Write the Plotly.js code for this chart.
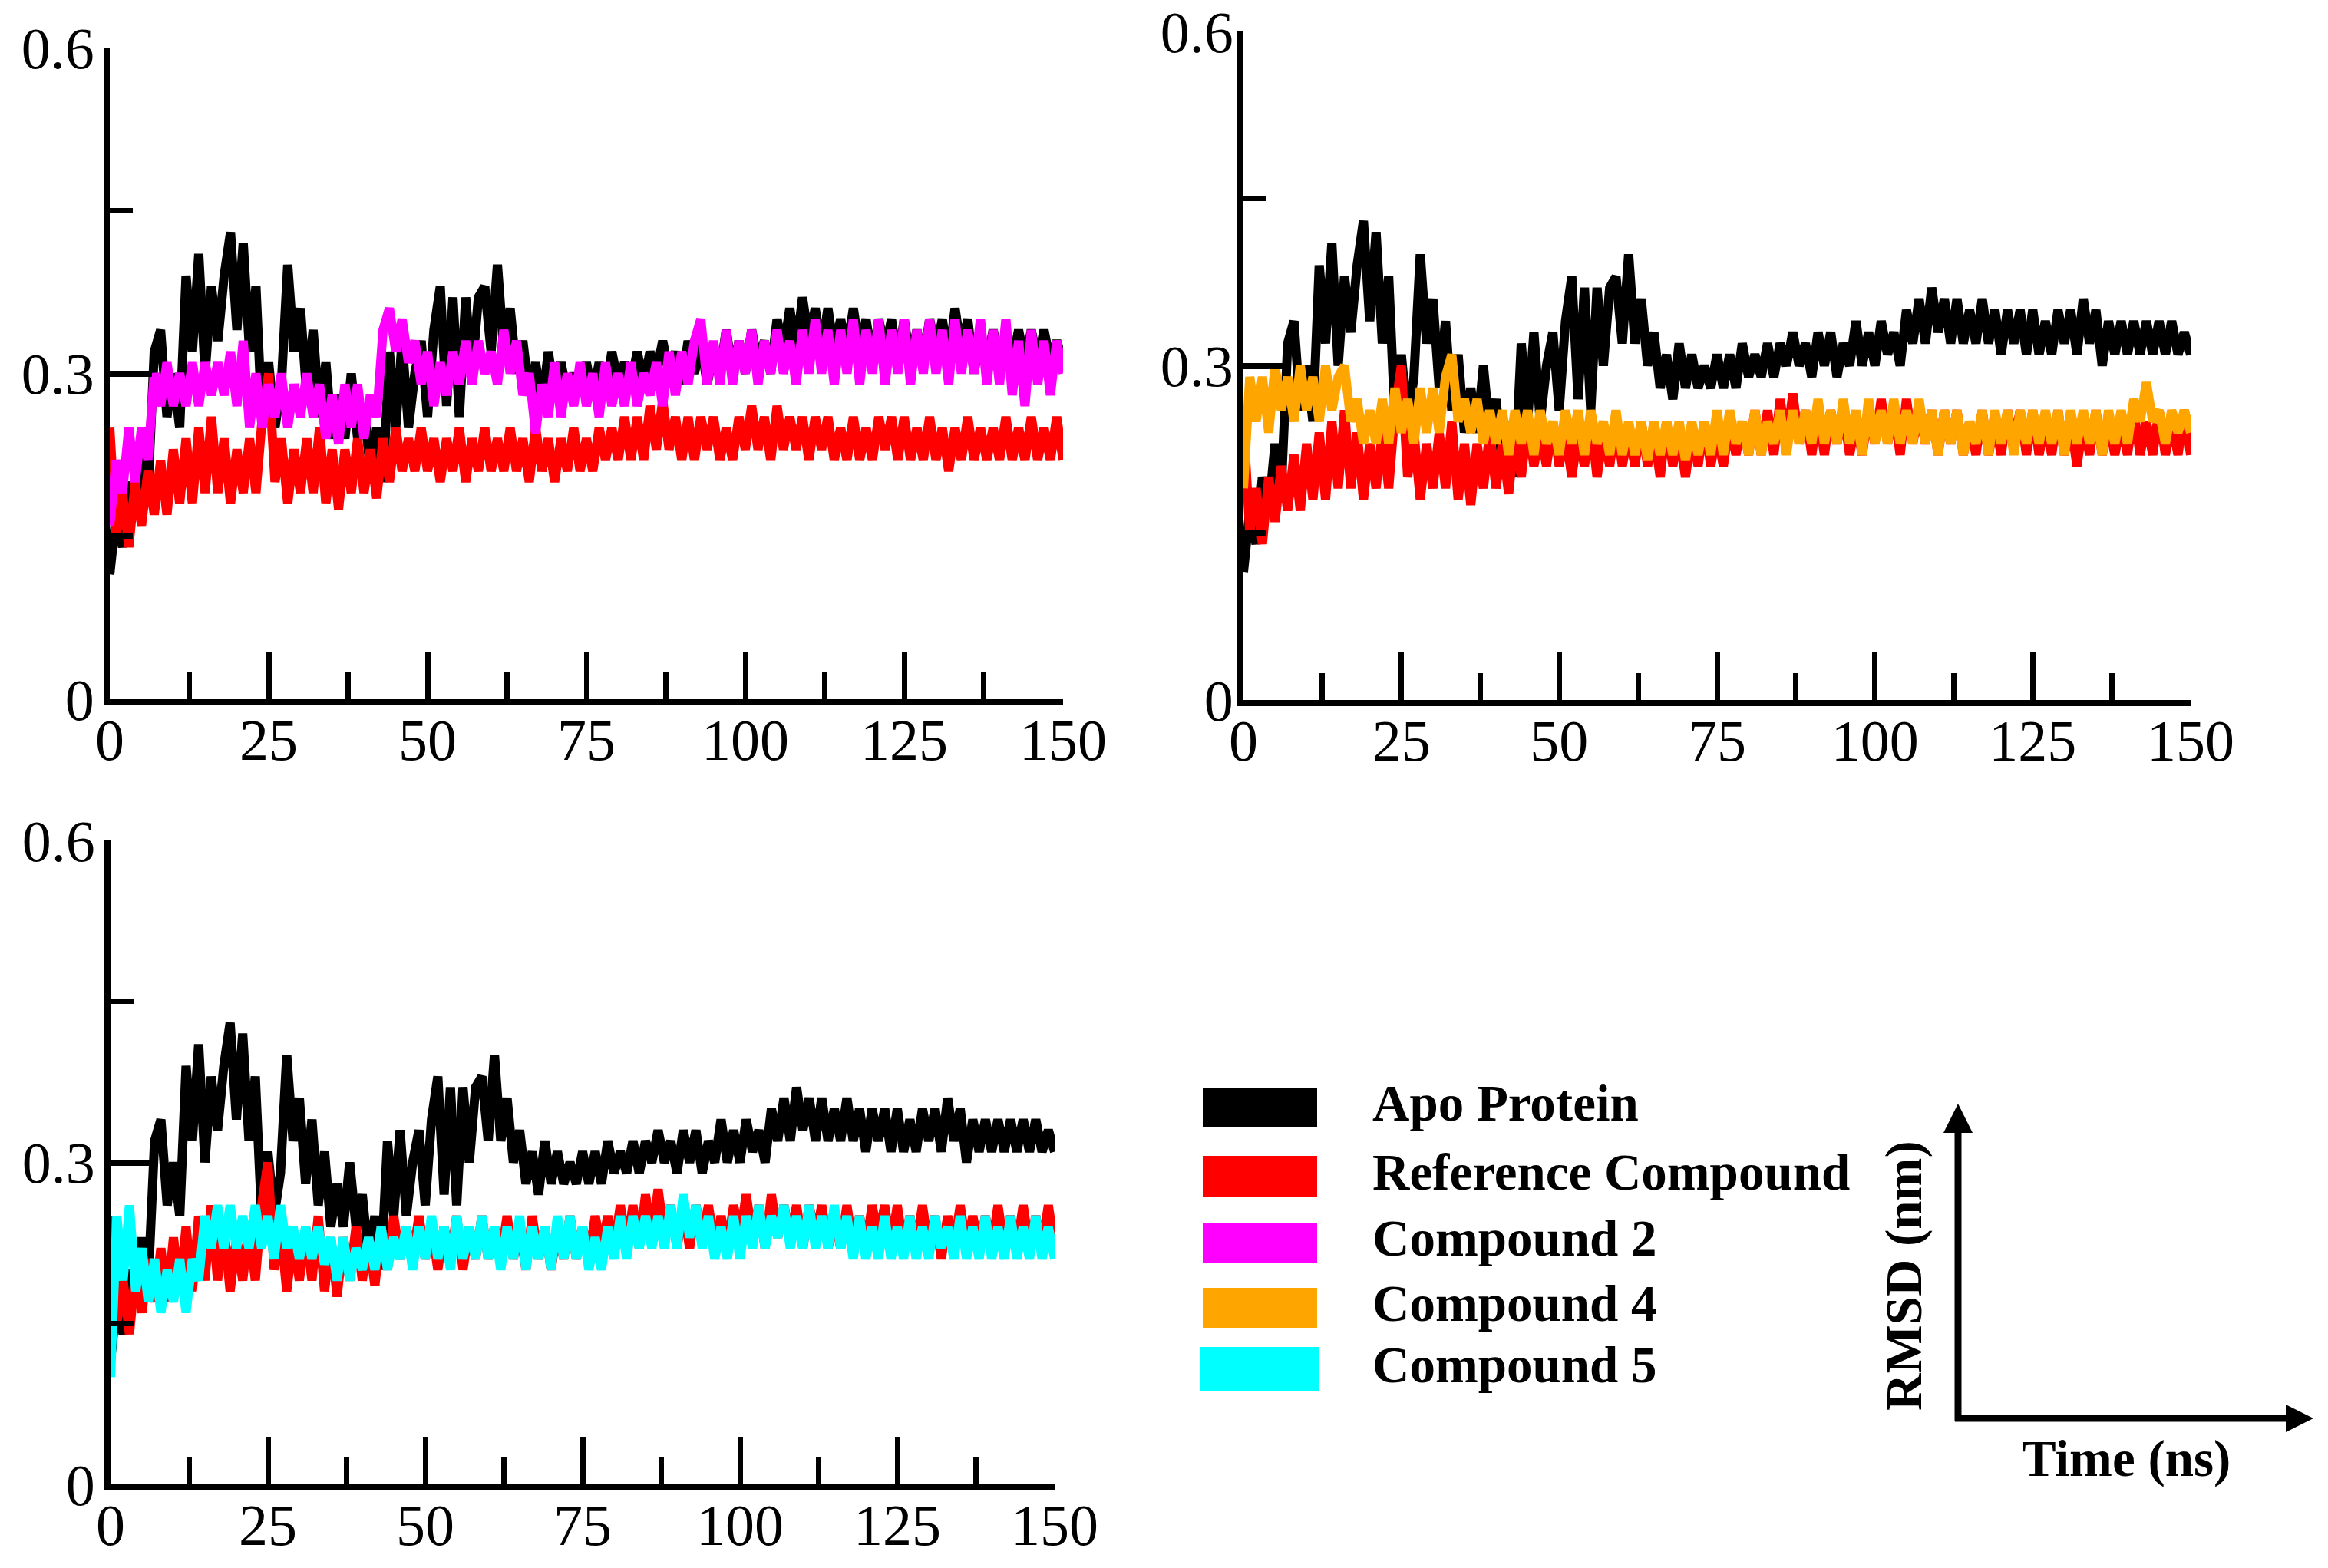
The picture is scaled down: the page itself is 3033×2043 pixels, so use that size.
<!DOCTYPE html>
<html>
<head>
<meta charset="utf-8">
<script src="https://cdn.plot.ly/plotly-3.0.1.min.js"></script>
<style>html,body{margin:0;padding:0;background:#fff;}#chart{width:3033px;height:2043px;}</style>
</head>
<body>
<div id="chart"></div>
<script>
// ---- Data (RMSD in nm, sampled every 1 ns, 0..150 ns) ----
var seriesNames = ["Apo Protein", "Reference Compound", "Compound 2", "Compound 4", "Compound 5"];
var seriesColors = ["#000000", "#ff0000", "#ff00ff", "#ffa500", "#00ffff"];
var xTickLabels = ["0", "25", "50", "75", "100", "125", "150"];
var yTickLabels = ["0", "0.3", "0.6"];

var apo = [
0.115,0.17,0.14,0.20,0.17,0.23,0.19,0.32,0.34,0.26,
0.30,0.25,0.39,0.32,0.41,0.30,0.38,0.33,0.39,0.43,
0.34,0.42,0.32,0.38,0.25,0.31,0.25,0.29,0.40,0.32,
0.36,0.28,0.34,0.26,0.31,0.24,0.28,0.24,0.30,0.24,
0.27,0.21,0.25,0.20,0.32,0.25,0.33,0.25,0.30,0.33,
0.26,0.34,0.38,0.27,0.37,0.26,0.37,0.30,0.37,0.38,
0.32,0.40,0.32,0.36,0.30,0.33,0.28,0.31,0.27,0.32,
0.28,0.31,0.28,0.30,0.28,0.31,0.28,0.31,0.28,0.32,
0.29,0.31,0.29,0.32,0.29,0.32,0.30,0.33,0.30,0.32,
0.29,0.33,0.30,0.33,0.29,0.32,0.30,0.34,0.30,0.33,
0.30,0.34,0.31,0.33,0.30,0.35,0.32,0.36,0.32,0.37,
0.33,0.36,0.32,0.36,0.32,0.35,0.32,0.36,0.32,0.35,
0.31,0.35,0.32,0.35,0.31,0.35,0.31,0.34,0.31,0.35,
0.32,0.35,0.31,0.36,0.32,0.35,0.30,0.34,0.31,0.34,
0.31,0.34,0.31,0.34,0.31,0.34,0.31,0.34,0.31,0.33,
0.31];

var refCmp = [
0.25,0.15,0.19,0.14,0.20,0.16,0.21,0.17,0.22,0.17,
0.23,0.18,0.24,0.18,0.25,0.19,0.26,0.19,0.24,0.18,
0.23,0.19,0.24,0.19,0.26,0.30,0.20,0.24,0.18,0.23,
0.19,0.24,0.19,0.25,0.18,0.23,0.175,0.23,0.19,0.24,
0.19,0.23,0.185,0.24,0.20,0.25,0.21,0.24,0.21,0.25,
0.21,0.24,0.20,0.24,0.21,0.25,0.20,0.24,0.21,0.25,
0.21,0.24,0.21,0.25,0.21,0.24,0.20,0.25,0.21,0.24,
0.20,0.24,0.21,0.25,0.21,0.24,0.21,0.25,0.22,0.25,
0.22,0.26,0.22,0.26,0.22,0.27,0.23,0.275,0.23,0.26,
0.22,0.26,0.22,0.26,0.23,0.26,0.22,0.25,0.22,0.26,
0.23,0.27,0.23,0.26,0.22,0.27,0.23,0.26,0.23,0.26,
0.22,0.26,0.23,0.26,0.22,0.25,0.22,0.26,0.22,0.25,
0.22,0.26,0.23,0.26,0.22,0.26,0.22,0.25,0.22,0.26,
0.22,0.25,0.21,0.25,0.22,0.26,0.22,0.25,0.22,0.25,
0.22,0.26,0.22,0.25,0.22,0.26,0.22,0.25,0.22,0.26,
0.22];

var cmp2 = [
0.16,0.22,0.19,0.25,0.20,0.25,0.22,0.30,0.27,0.31,
0.27,0.30,0.27,0.31,0.27,0.31,0.28,0.31,0.28,0.32,
0.27,0.33,0.25,0.30,0.25,0.29,0.26,0.30,0.25,0.29,
0.26,0.30,0.26,0.29,0.24,0.28,0.235,0.29,0.25,0.29,
0.24,0.28,0.26,0.34,0.36,0.32,0.35,0.31,0.33,0.29,
0.32,0.27,0.31,0.28,0.32,0.29,0.33,0.29,0.33,0.30,
0.32,0.29,0.34,0.30,0.33,0.28,0.30,0.245,0.29,0.26,
0.31,0.26,0.30,0.27,0.31,0.27,0.30,0.26,0.31,0.27,
0.30,0.27,0.31,0.27,0.30,0.28,0.31,0.27,0.32,0.28,
0.32,0.29,0.33,0.35,0.29,0.33,0.29,0.34,0.29,0.33,
0.30,0.34,0.29,0.33,0.30,0.34,0.30,0.33,0.29,0.34,
0.30,0.35,0.30,0.34,0.29,0.34,0.30,0.35,0.29,0.34,
0.30,0.35,0.29,0.34,0.30,0.35,0.29,0.34,0.30,0.35,
0.30,0.34,0.29,0.35,0.30,0.34,0.30,0.35,0.29,0.34,
0.29,0.35,0.28,0.33,0.27,0.34,0.29,0.33,0.28,0.33,
0.30];

var cmp4 = [
0.19,0.29,0.25,0.29,0.24,0.30,0.26,0.29,0.25,0.30,
0.26,0.29,0.25,0.30,0.26,0.29,0.30,0.25,0.27,0.23,
0.26,0.23,0.27,0.23,0.28,0.24,0.27,0.23,0.28,0.24,
0.28,0.24,0.29,0.31,0.25,0.27,0.24,0.27,0.23,0.26,
0.23,0.26,0.22,0.26,0.23,0.26,0.22,0.26,0.23,0.25,
0.22,0.26,0.23,0.26,0.22,0.26,0.23,0.25,0.22,0.26,
0.22,0.25,0.22,0.25,0.215,0.25,0.22,0.25,0.22,0.25,
0.215,0.25,0.22,0.25,0.22,0.26,0.22,0.26,0.23,0.25,
0.22,0.26,0.22,0.25,0.23,0.26,0.22,0.26,0.23,0.26,
0.23,0.27,0.23,0.26,0.23,0.27,0.23,0.26,0.22,0.27,
0.23,0.26,0.23,0.27,0.23,0.26,0.23,0.27,0.23,0.26,
0.22,0.26,0.23,0.26,0.22,0.25,0.23,0.26,0.22,0.26,
0.23,0.26,0.22,0.26,0.23,0.26,0.23,0.26,0.23,0.26,
0.22,0.26,0.23,0.26,0.23,0.26,0.22,0.26,0.23,0.26,
0.23,0.27,0.25,0.285,0.25,0.26,0.23,0.26,0.24,0.26,
0.24];

var cmp5 = [
0.10,0.25,0.19,0.26,0.18,0.22,0.17,0.21,0.16,0.20,
0.17,0.21,0.16,0.21,0.19,0.25,0.22,0.26,0.22,0.26,
0.22,0.25,0.22,0.26,0.22,0.25,0.21,0.26,0.22,0.24,
0.21,0.24,0.21,0.24,0.205,0.23,0.19,0.23,0.19,0.22,
0.20,0.23,0.20,0.24,0.20,0.23,0.21,0.24,0.20,0.24,
0.21,0.25,0.21,0.24,0.20,0.25,0.21,0.24,0.21,0.25,
0.21,0.24,0.20,0.24,0.21,0.25,0.20,0.24,0.21,0.24,
0.20,0.25,0.21,0.25,0.21,0.24,0.20,0.23,0.20,0.24,
0.21,0.25,0.21,0.25,0.22,0.25,0.22,0.25,0.22,0.26,
0.22,0.27,0.23,0.26,0.22,0.25,0.21,0.24,0.21,0.25,
0.21,0.25,0.22,0.26,0.22,0.25,0.23,0.26,0.22,0.25,
0.22,0.26,0.22,0.25,0.22,0.26,0.22,0.25,0.21,0.25,
0.21,0.24,0.21,0.25,0.21,0.24,0.21,0.25,0.21,0.24,
0.21,0.25,0.22,0.24,0.21,0.25,0.21,0.24,0.21,0.25,
0.21,0.24,0.21,0.25,0.21,0.24,0.21,0.25,0.21,0.24,
0.21];

var seriesData = [apo, refCmp, cmp2, cmp4, cmp5];

// ---- Layout helpers ----
var W = 3033, H = 2043;
function fx(px) { return px / W; }
function fy(py) { return 1 - py / H; }

var time = [];
for (var i = 0; i <= 150; i++) time.push(i);

function lineTrace(idx, xa, ya) {
  var v = seriesData[idx];
  return {
    type: 'scatter', mode: 'lines',
    x: time.slice(0, v.length), y: v,
    xaxis: xa, yaxis: ya,
    name: seriesNames[idx],
    line: { color: seriesColors[idx], width: 12 },
    hoverinfo: 'skip', showlegend: false
  };
}

var traces = [
  lineTrace(0, 'x', 'y'), lineTrace(1, 'x', 'y'), lineTrace(2, 'x', 'y'),
  lineTrace(0, 'x2', 'y2'), lineTrace(1, 'x2', 'y2'), lineTrace(3, 'x2', 'y2'),
  lineTrace(0, 'x3', 'y3'), lineTrace(1, 'x3', 'y3'), lineTrace(4, 'x3', 'y3')
];

var tickFont = { family: 'Liberation Serif, Times New Roman, serif', size: 76, color: '#000' };

function xAxis(domain, anchor) {
  return {
    domain: domain, anchor: anchor, range: [0, 150],
    tickmode: 'array', tickvals: xTickLabels.map(Number), ticktext: xTickLabels,
    ticks: 'inside', ticklen: 62, tickwidth: 7, tickcolor: '#000',
    minor: { ticks: 'inside', ticklen: 35, tickwidth: 7, tickcolor: '#000', dtick: 12.5, tick0: 0, showgrid: false },
    showline: true, linewidth: 8, linecolor: '#000',
    showgrid: false, zeroline: false,
    tickfont: tickFont, ticklabelstandoff: -20, ticklabeloverflow: 'allow', fixedrange: true
  };
}
function yAxis(domain, anchor, standoff) {
  return {
    domain: domain, anchor: anchor, range: [0, 0.6],
    tickmode: 'array', tickvals: yTickLabels.map(Number), ticktext: yTickLabels,
    ticks: 'inside', ticklen: 55, tickwidth: 8, tickcolor: '#000',
    minor: { ticks: 'inside', ticklen: 30, tickwidth: 7, tickcolor: '#000', dtick: 0.15, tick0: 0, showgrid: false },
    showline: true, linewidth: 8, linecolor: '#000',
    showgrid: false, zeroline: false,
    tickfont: tickFont, ticklabelstandoff: standoff, ticklabeloverflow: 'allow', fixedrange: true
  };
}

var layout = {
  width: W, height: H,
  margin: { l: 0, r: 0, t: 0, b: 0, pad: 0 },
  paper_bgcolor: '#fff', plot_bgcolor: 'rgba(0,0,0,0)',
  showlegend: false,
  xaxis: xAxis([fx(143), fx(1385)], 'y'),
  yaxis: yAxis([fy(911), fy(62)], 'x', -3),
  xaxis2: xAxis([fx(1620), fx(2854)], 'y2'),
  yaxis2: yAxis([fy(912), fy(41)], 'x2', -10),
  xaxis3: xAxis([fx(144), fx(1374)], 'y3'),
  yaxis3: yAxis([fy(1934), fy(1095)], 'x3', -3),
  shapes: [],
  annotations: []
};

// ---- Legend (colour boxes + labels) ----
var legendRows = [
  { top: 1417, bottom: 1469, l: 1567, r: 1716 },
  { top: 1506, bottom: 1559, l: 1567, r: 1716 },
  { top: 1593, bottom: 1645, l: 1567, r: 1716 },
  { top: 1678, bottom: 1730, l: 1567, r: 1716 },
  { top: 1755, bottom: 1813, l: 1564, r: 1718 }
];
var legendFont = { family: 'Liberation Serif, Times New Roman, serif', size: 67, color: '#000', weight: 'bold' };
legendRows.forEach(function (r, i) {
  layout.shapes.push({
    type: 'rect', xref: 'paper', yref: 'paper',
    x0: fx(r.l), x1: fx(r.r), y0: fy(r.bottom), y1: fy(r.top),
    fillcolor: seriesColors[i], line: { width: 0 }
  });
  layout.annotations.push({
    xref: 'paper', yref: 'paper', x: fx(1786), y: fy((r.top + r.bottom) / 2 - 6),
    xanchor: 'left', yanchor: 'middle', showarrow: false,
    text: '<b>' + seriesNames[i] + '</b>', font: legendFont
  });
});

// ---- Axis-key arrows ----
var ox = 2551, oy = 1848;
layout.shapes.push({ type: 'line', xref: 'paper', yref: 'paper', x0: fx(ox), y0: fy(oy + 4), x1: fx(ox), y1: fy(1470), line: { color: '#000', width: 9 } });
layout.shapes.push({ type: 'line', xref: 'paper', yref: 'paper', x0: fx(ox - 4), y0: fy(oy), x1: fx(2985), y1: fy(oy), line: { color: '#000', width: 9 } });
layout.shapes.push({ type: 'path', xref: 'paper', yref: 'paper', fillcolor: '#000', line: { width: 0 },
  path: 'M ' + fx(ox - 19) + ' ' + fy(1476) + ' L ' + fx(ox) + ' ' + fy(1438) + ' L ' + fx(ox + 19) + ' ' + fy(1476) + ' Z' });
layout.shapes.push({ type: 'path', xref: 'paper', yref: 'paper', fillcolor: '#000', line: { width: 0 },
  path: 'M ' + fx(2978) + ' ' + fy(oy - 18) + ' L ' + fx(3014) + ' ' + fy(oy) + ' L ' + fx(2978) + ' ' + fy(oy + 18) + ' Z' });

layout.annotations.push({
  xref: 'paper', yref: 'paper', x: fx(2480), y: fy(1662), xanchor: 'center', yanchor: 'middle',
  showarrow: false, textangle: -90, text: '<b>RMSD (nm)</b>', font: legendFont
});
layout.annotations.push({
  xref: 'paper', yref: 'paper', x: fx(2770), y: fy(1900), xanchor: 'center', yanchor: 'middle',
  showarrow: false, text: '<b>Time (ns)</b>', font: legendFont
});

Plotly.newPlot('chart', traces, layout, { staticPlot: true, displayModeBar: false });
</script>
</body>
</html>
